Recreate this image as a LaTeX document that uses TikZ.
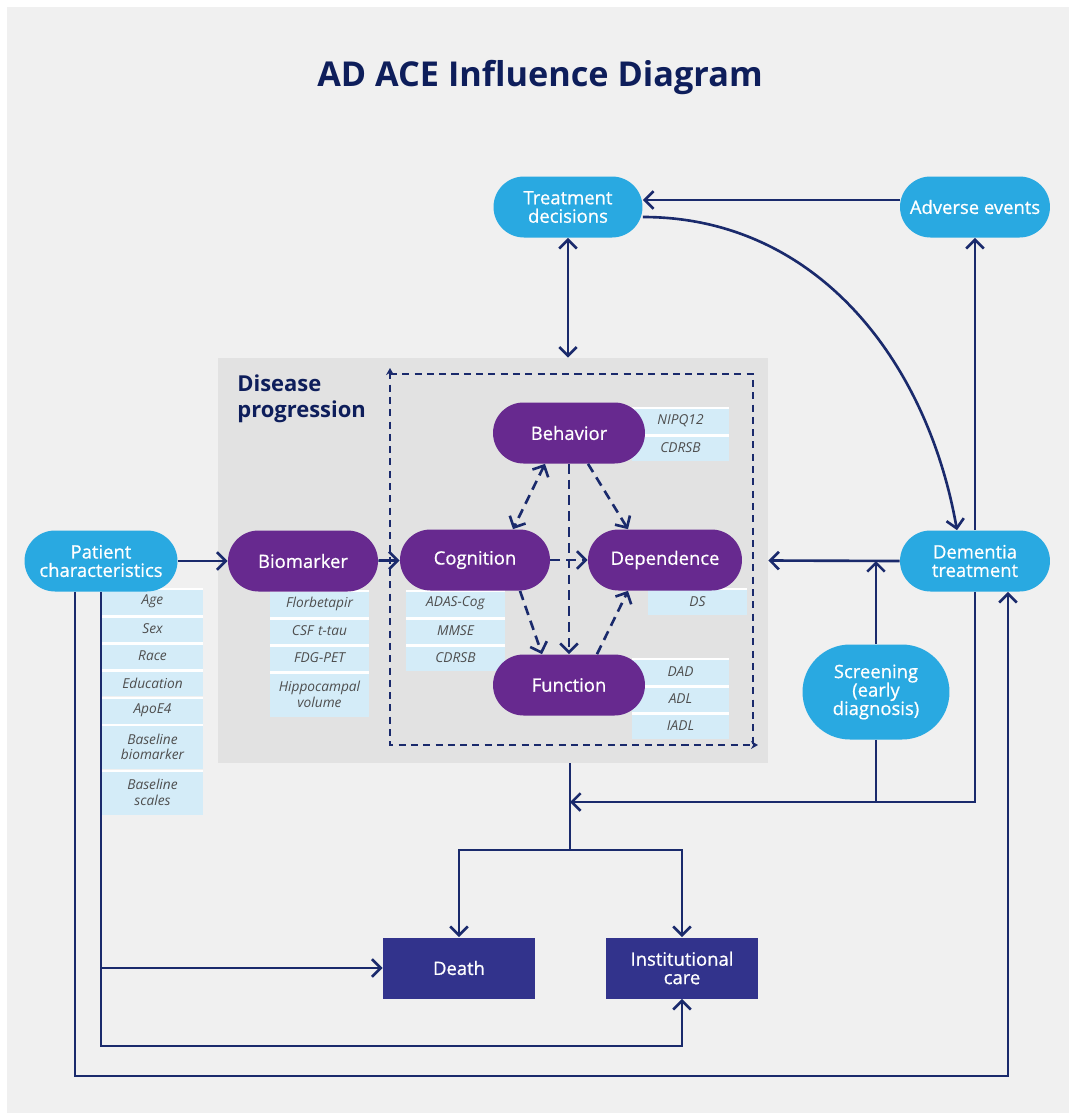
\documentclass[tikz,border=0pt]{standalone}
\usepackage{fontspec}
\setmainfont{Open Sans}
\newfontfamily\medfont{Open Sans}[FakeBold=0.7]
\usetikzlibrary{positioning,arrows.meta}

\definecolor{bgc}{HTML}{F0F0F0}
\definecolor{dpgrey}{HTML}{E2E2E2}
\definecolor{skyb}{HTML}{29A9E1}
\definecolor{purp}{HTML}{67298F}
\definecolor{indig}{HTML}{32338C}
\definecolor{navy}{HTML}{1A2A6C}
\definecolor{tnavy}{HTML}{0E1E5B}
\definecolor{lblue}{HTML}{D4ECF8}
\definecolor{lgrey}{HTML}{4E4E4E}

\tikzset{
  pill/.style={rectangle, rounded corners=0.61cm, fill=skyb, text=white, minimum width=3cm, minimum height=1.22cm, inner sep=1pt, align=center, font=\medfont\fontsize{10.5}{10.5}\selectfont},
  ppill/.style={pill, fill=purp},
  outbox/.style={rectangle, fill=indig, text=white, minimum width=3.04cm, minimum height=1.22cm, inner sep=1pt, align=center, font=\medfont\fontsize{10.5}{10.5}\selectfont},
  lbl/.style={rectangle, fill=lblue, text=lgrey, inner sep=0pt, minimum height=0.53cm, align=center, font=\fontsize{7.8}{9}\selectfont\itshape,
    path picture={\draw[white,line width=2.4pt] (path picture bounding box.north west) -- (path picture bounding box.north east);}},
  lbltwo/.style={lbl, minimum height=0.9cm},
  wire/.style={draw=navy, line width=1.5pt},
  link/.style={wire, ->},
  dlink/.style={link, dash pattern=on 5.5pt off 3.5pt},
}

\begin{document}
\begin{tikzpicture}[x=0.02cm, y=-0.02cm, >={Straight Barb[length=5pt,width=10pt]}]
  \useasboundingbox (0,0) rectangle (1069,1113);
  \fill[white] (-10,-10) rectangle (1080,1125);
  \fill[bgc] (7,7) rectangle (1080,1125);

  \node[font=\fontsize{19.5}{22}\selectfont\bfseries, text=tnavy] (title) at (540,78) {AD ACE Influence Diagram};

  % disease progression panel
  \node[fill=dpgrey, minimum width=11cm, minimum height=8.1cm, inner sep=0pt] (dp) at (493,560.5) {};
  \node[anchor=north west, align=left, inner sep=0pt, text=tnavy, font=\fontsize{12.5}{15}\selectfont\bfseries] (dptitle) at (237,374) {Disease\\progression};

  \coordinate (dtl) at (390,374);
  \coordinate (dtr) at (753,374);
  \coordinate (dbl) at (390,745);
  \coordinate (dbr) at (753,745);
  \draw[navy, line width=0.7pt, dash pattern=on 4pt off 3pt] (dtl) -- (dtr) -- (dbr);
  \draw[navy, line width=0.7pt, dash pattern=on 4pt off 3pt, {Stealth[length=4pt,width=4.5pt]}-{Stealth[length=4pt,width=4.5pt]}] ([yshift=0.12cm]dtl) -- (dbl) -- ([xshift=0.1cm]dbr);

  % label lists
  \node[lbl, text width=2.02cm, anchor=north] (age) at (152.5,588) {Age};
  \node[lbl, text width=2.02cm, below=0pt of age] (sex) {Sex};
  \node[lbl, text width=2.02cm, below=0pt of sex] (race) {Race};
  \node[lbl, text width=2.02cm, below=0pt of race] (edu) {Education};
  \node[lbl, text width=2.02cm, below=0pt of edu] (apoe) {ApoE4};
  \node[lbltwo, text width=2.02cm, below=0pt of apoe] (bbio) {Baseline\\biomarker};
  \node[lbltwo, text width=2.02cm, below=0pt of bbio] (bscal) {Baseline\\scales};

  \node[lbl, text width=2cm, anchor=north] (flor) at (319.5,590) {Florbetapir};
  \node[lbl, text width=2cm, below=0pt of flor] (csf) {CSF t-tau};
  \node[lbl, text width=2cm, below=0pt of csf] (fdg) {FDG-PET};
  \node[lbltwo, text width=2cm, below=0pt of fdg] (hippo) {Hippocampal\\volume};

  \node[lbl, text width=2cm, anchor=north] (adas) at (455.5,590) {ADAS-Cog};
  \node[lbl, text width=2cm, below=0pt of adas] (mmse) {MMSE};
  \node[lbl, text width=2cm, below=0pt of mmse] (cdrc) {CDRSB};

  \node[lbl, text width=1.94cm, anchor=north] (npi) at (680.5,407) {NIPQ12};
  \node[lbl, text width=1.94cm, below=0pt of npi] (cdrb) {CDRSB};

  \node[lbl, text width=1.98cm, anchor=north] (ds) at (697.5,588) {DS};

  \node[lbl, text width=1.94cm, anchor=north] (dad) at (680.5,658) {DAD};
  \node[lbl, text width=1.94cm, below=0pt of dad] (adl) {ADL};
  \node[lbl, text width=1.94cm, below=0pt of adl] (iadl) {IADL};

  % nodes
  \node[pill, minimum width=3.06cm] (pc) at (101,561) {Patient\\characteristics};
  \node[ppill] (bio) at (303,561) {Biomarker};
  \node[ppill] (cog) at (475,560) {Cognition};
  \node[ppill, minimum width=3.08cm] (dep) at (665,560) {Dependence};
  \node[ppill, minimum width=3.04cm] (beh) at (569,433) {Behavior};
  \node[ppill, minimum width=3.04cm] (fun) at (569,685) {Function};
  \node[pill, minimum width=2.98cm] (td) at (568,207) {Treatment\\decisions};
  \node[pill] (ae) at (975,207) {Adverse events};
  \node[pill] (dt) at (975,561) {Dementia\\treatment};
  \node[pill, minimum width=2.94cm, minimum height=1.9cm, rounded corners=0.95cm] (scr) at (876,692) {Screening\\(early\\diagnosis)};
  \node[outbox] (death) at (459,968) {Death};
  \node[outbox] (inst) at (682,968) {Institutional\\care};

  % connectors inside the panel
  \draw[link] (pc) -- (bio);
  \draw[link] (bio) -- (cog);
  \draw[dlink] (cog) -- (dep);
  \draw[dlink, <->] ([xshift=-0.48cm]beh.south) -- ([xshift=0.76cm]cog.north);
  \draw[dlink] ([xshift=0.38cm]beh.south) -- ([xshift=-0.74cm]dep.north);
  \draw[dlink] (beh.south) -- (fun.north);
  \draw[dlink] ([xshift=0.9cm]cog.south) -- ([xshift=-0.54cm]fun.north);
  \draw[dlink] ([xshift=0.56cm]fun.north) -- ([xshift=-0.74cm]dep.south);

  % treatment side
  \draw[link, <->] (td.south) -- (td.south |- dp.north);
  \draw[link] ([yshift=0.14cm]ae.west) -- ([yshift=0.14cm]td.east);
  \draw[link] ([yshift=-0.2cm]td.east) to[out=0, in=100] ([xshift=-0.36cm]dt.north);
  \draw[link] (dt.north) -- (ae.south);
  \draw[link] (dt.west) -- (dp.east);
  \draw[link] (scr.north) -- (scr.north |- dt.west);

  % outcomes
  \coordinate (mrg) at (570,802);
  \coordinate (split) at (570,850);
  \draw[link] (dt.south) |- (mrg);
  \draw[wire] (scr.south) -- (scr.south |- mrg);
  \draw[link] (mrg |- dp.south) -- (split) -| (death.north);
  \draw[link] (split) -| (inst.north);

  \coordinate (lowA) at (inst.south |- 0,1046);
  \coordinate (lowB) at (1008,1076);
  \draw[link] (pc.south) |- (death.west);
  \draw[link] (pc.south) |- (lowA) -- (inst.south);
  \draw[link] ([xshift=-0.52cm]pc.south) |- (lowB) -- (lowB |- dt.south);
\end{tikzpicture}
\end{document}
